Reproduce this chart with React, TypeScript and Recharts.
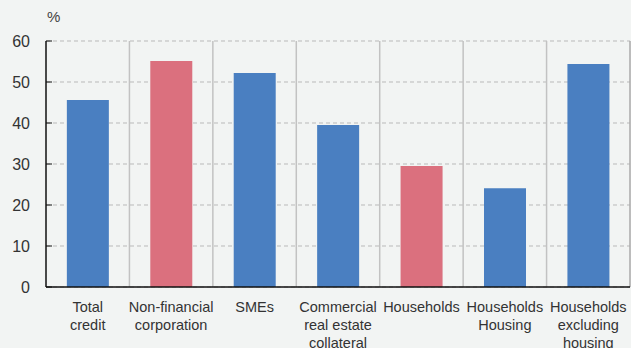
import { BarChart, Bar, XAxis, YAxis, CartesianGrid, Cell, ReferenceLine } from 'recharts';

const categories = [
  'Total\ncredit',
  'Non-financial\ncorporation',
  'SMEs',
  'Commercial\nreal estate\ncollateral',
  'Households',
  'Households\nHousing',
  'Households\nexcluding\nhousing',
];
const values = [45.6, 55.1, 52.2, 39.5, 29.5, 24.1, 54.4];
const yTicks = [0, 10, 20, 30, 40, 50, 60];
const pinkBars = ['Non-financial\ncorporation', 'Households'];

const BLUE = '#4a7fc1';
const PINK = '#db707e';
const FONT = '"Liberation Sans", Arial, Helvetica, sans-serif';

const data = categories.map((name, i) => ({ name, value: values[i], pos: i + 0.5 }));
const separators = categories.map((_, i) => i + 1);

function CategoryTick({ x, y, payload }: any) {
  const lines = String(payload.value).split('\n');
  return (
    <text x={x} y={y + 17} textAnchor="middle" fontSize={14.5} fill="#333" fontFamily={FONT}>
      {lines.map((l, i) => (
        <tspan key={i} x={x} dy={i === 0 ? 0 : 18}>{l}</tspan>
      ))}
    </text>
  );
}

function ValueTick({ x, y, payload }: any) {
  return (
    <g>
      <line x1={x + 8} x2={x + 14} y1={y} y2={y} stroke="#111" strokeWidth={1} />
      <text x={x - 8} y={y} dy={6} textAnchor="end" fontSize={16} fill="#333" fontFamily={FONT}>
        {payload.value}
      </text>
    </g>
  );
}

export default function App() {
  return (
    <div style={{ position: 'fixed', left: 0, top: 0, width: 631, height: 348, background: '#f2f4f3' }}>
      <div style={{ position: 'absolute', left: 47, top: 8, fontSize: 15, color: '#444', fontFamily: FONT }}>%</div>
      <BarChart width={631} height={348} data={data} margin={{ top: 41, right: 1, left: 0, bottom: 0 }} barCategoryGap="25%">
        <CartesianGrid horizontal vertical={false} stroke="#b9b9b9" strokeDasharray="4 3" />
        <XAxis xAxisId="sep" dataKey="pos" type="number" domain={[0, 7]} allowDataOverflow hide />
        {separators.map((s) => (
          <ReferenceLine key={s} xAxisId="sep" x={s} stroke={s === 7 ? '#aaa' : '#c2c2c2'} strokeWidth={1.5} />
        ))}
        <XAxis
          dataKey="name"
          interval={0}
          height={61}
          axisLine={{ stroke: '#111', strokeWidth: 1.5 }}
          tickLine={false}
          tick={<CategoryTick />}
        />
        <YAxis
          width={46}
          domain={[0, 60]}
          ticks={yTicks}
          axisLine={{ stroke: '#111', strokeWidth: 1.5 }}
          tickLine={false}
          tickSize={0}
          tickMargin={8}
          tick={<ValueTick />}
        />
        <Bar dataKey="value" isAnimationActive={false}>
          {data.map((d) => (
            <Cell key={d.name} fill={pinkBars.includes(d.name) ? PINK : BLUE} />
          ))}
        </Bar>
      </BarChart>
    </div>
  );
}
